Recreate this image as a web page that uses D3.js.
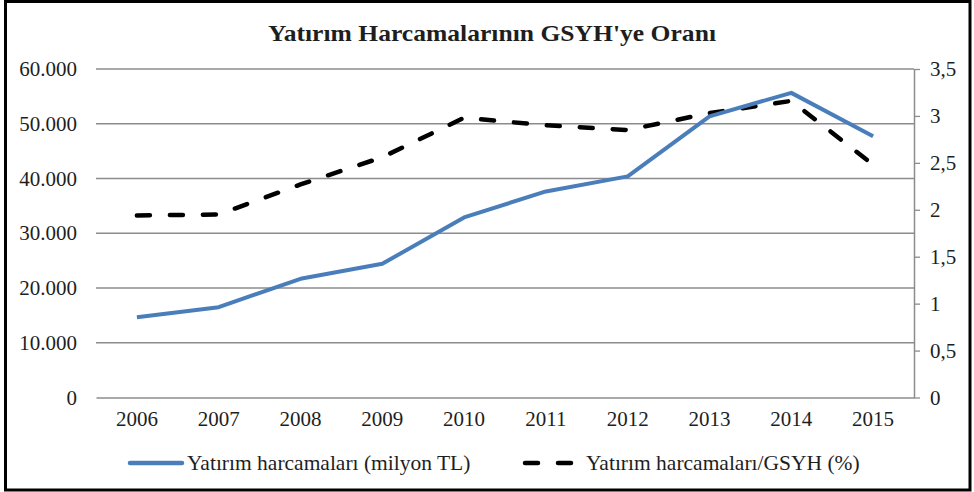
<!DOCTYPE html>
<html>
<head>
<meta charset="utf-8">
<script src="https://cdn.jsdelivr.net/npm/d3@7"></script>
<style>
  body { margin: 0; background: #fff; }
  svg { display: block; }
  svg text { font-family: "Liberation Serif", "Times New Roman", serif; fill: #1e1e1e; }
</style>
</head>
<body>
<div id="chart"></div>
<script>
const years = ['2006', '2007', '2008', '2009', '2010', '2011', '2012', '2013', '2014', '2015'];
const harcama = [14670, 16500, 21680, 24420, 32890, 37640, 40390, 51360, 55640, 47710];
const oran = [1.94, 1.95, 2.27, 2.56, 2.98, 2.90, 2.85, 3.03, 3.16, 2.48];
const leftTicks = [0, 10000, 20000, 30000, 40000, 50000, 60000];
const rightTicks = [0, 0.5, 1, 1.5, 2, 2.5, 3, 3.5];

const width = 974, height = 492;
const margin = { top: 69, right: 60, bottom: 94.5, left: 96 };

const svg = d3.select('#chart')
  .append('svg')
    .attr('width', width)
    .attr('height', height);

// frame
svg.append('rect')
  .attr('x', 5.5).attr('y', 1.5)
  .attr('width', 964.5).attr('height', 488.5)
  .attr('fill', '#fff')
  .attr('stroke', '#000')
  .attr('stroke-width', 3);

svg.append('text')
  .attr('x', 492)
  .attr('y', 41)
  .attr('text-anchor', 'middle')
  .attr('font-size', '23px')
  .attr('font-weight', 'bold')
  .attr('textLength', 448)
  .attr('lengthAdjust', 'spacingAndGlyphs')
  .text("Yatırım Harcamalarının GSYH'ye Oranı");

const x = d3.scaleBand()
  .domain(years)
  .range([margin.left, width - margin.right]);

const y = d3.scaleLinear()
  .domain([0, 60000])
  .range([height - margin.bottom, margin.top]);

const y2 = d3.scaleLinear()
  .domain([0, 3.5])
  .range([height - margin.bottom, margin.top]);

const fmt = d => d3.format(',')(d).replace(/,/g, '.');

// gridlines
svg.append('g')
  .selectAll('line')
  .data(leftTicks.slice(1))
  .enter().append('line')
    .attr('x1', margin.left)
    .attr('x2', width - margin.right)
    .attr('y1', d => y(d))
    .attr('y2', d => y(d))
    .attr('stroke', '#8c8c8c')
    .attr('stroke-width', 1.3);

// left axis labels
const yAxis = svg.append('g')
  .attr('transform', `translate(${margin.left},0)`)
  .call(d3.axisLeft(y).tickValues(leftTicks).tickFormat(fmt).tickSize(0).tickPadding(19));
yAxis.select('.domain').remove();
yAxis.selectAll('text').style('font-size', '21px');

// right axis
const yAxis2 = svg.append('g')
  .attr('transform', `translate(${width - margin.right},0)`)
  .call(d3.axisRight(y2).tickValues(rightTicks)
    .tickFormat(d => String(d).replace('.', ','))
    .tickSizeInner(6).tickSizeOuter(0).tickPadding(10));
yAxis2.select('.domain').attr('stroke', '#8c8c8c').attr('stroke-width', 1.5);
yAxis2.selectAll('.tick line').attr('stroke', '#8c8c8c').attr('stroke-width', 1.3);
yAxis2.selectAll('text').style('font-size', '21px');

// bottom axis
const xAxis = svg.append('g')
  .attr('transform', `translate(0,${height - margin.bottom})`)
  .call(d3.axisBottom(x).tickSize(0).tickPadding(14));
xAxis.select('.domain').attr('stroke', '#8c8c8c').attr('stroke-width', 1.5);
xAxis.selectAll('text').style('font-size', '21px');

const cx = d => x(d) + x.bandwidth() / 2;

const line1 = d3.line()
  .x((d, i) => cx(years[i]))
  .y(d => y(d));

const line2 = d3.line()
  .x((d, i) => cx(years[i]))
  .y(d => y2(d));

svg.append('path')
  .datum(oran)
  .attr('d', line2)
  .attr('fill', 'none')
  .attr('stroke', '#000')
  .attr('stroke-width', 4.5)
  .attr('stroke-linecap', 'round')
  .attr('stroke-dasharray', '13,20');

svg.append('path')
  .datum(harcama)
  .attr('d', line1)
  .attr('fill', 'none')
  .attr('stroke', '#4a7ebb')
  .attr('stroke-width', 4)
  .attr('stroke-linejoin', 'round');

// legend
const legend = svg.append('g');
legend.append('line')
  .attr('x1', 130).attr('x2', 182)
  .attr('y1', 463).attr('y2', 463)
  .attr('stroke', '#4a7ebb')
  .attr('stroke-width', 4.5)
  .attr('stroke-linecap', 'round');
legend.append('text')
  .attr('x', 187).attr('y', 470)
  .style('font-size', '21.5px')
  .text('Yatırım harcamaları (milyon TL)');

legend.append('line')
  .attr('x1', 525).attr('x2', 574)
  .attr('y1', 463).attr('y2', 463)
  .attr('stroke', '#000')
  .attr('stroke-width', 4.5)
  .attr('stroke-linecap', 'round')
  .attr('stroke-dasharray', '13,20');
legend.append('text')
  .attr('x', 586).attr('y', 470)
  .style('font-size', '21.5px')
  .text('Yatırım harcamaları/GSYH (%)');
</script>
</body>
</html>
